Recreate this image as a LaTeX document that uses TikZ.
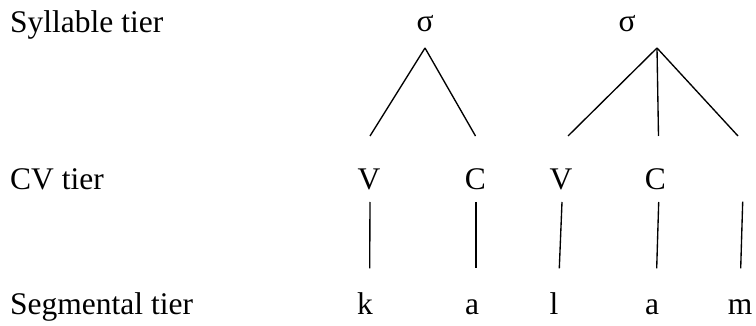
\documentclass[tikz,border=0pt]{standalone}
\usepackage{fontspec}
\setmainfont{Liberation Serif}
\usetikzlibrary{positioning,calc}

\begin{document}
\begin{tikzpicture}[x=1pt,y=-1pt,font=\fontsize{31.5}{36}\selectfont,
  tier/.style={anchor=base west,inner sep=0pt},
  unit/.style={anchor=base,inner sep=0pt},
  assoc/.style={line width=1.35pt}]
  \useasboundingbox (0,0) rectangle (756,326);

  % tier names
  \node[tier] (syltier) at (10,33) {Syllable tier};
  \node[tier] (cvtier) at (10,190) {CV tier};
  \node[tier] (segtier) at (10,315) {Segmental tier};

  % syllables
  \node[unit] (sig1) at (425,32) {σ};
  \node[unit] (sig2) at (627,32) {σ};

  % CV slots
  \node[unit] (v1) at (369,190) {V};
  \node[unit] (c1) at (475.5,190) {C};
  \node[unit] (v2) at (561,190) {V};
  \node[unit] (c2) at (655.5,190) {C};

  % segments
  \node[unit] (sk) at (365,315) {k};
  \node[unit] (sa1) at (472,315) {a};
  \node[unit] (sl) at (554,315) {l};
  \node[unit] (sa2) at (652,315) {a};
  \node[unit] (sm) at (740,315) {m};

  \coordinate (cfree) at (738,136);
  \coordinate (mfree) at (742.7,201.7);

  % syllable -- CV
  \draw[assoc] ($(sig1.base)+(0,16)$) -- ($(v1.base)+(1,-54)$);
  \draw[assoc] ($(sig1.base)+(0,16)$) -- ($(c1.base)+(0,-54)$);
  \draw[assoc] ($(sig2.base)+(30,16)$) -- ($(v2.base)+(7,-54)$);
  \draw[assoc] ($(sig2.base)+(30,16)$) -- ($(c2.base)+(3,-54)$);
  \draw[assoc] ($(sig2.base)+(30,16)$) -- (cfree);

  % CV -- segments
  \draw[assoc] ($(v1.base)+(1,12)$) -- ($(sk.base)+(4.7,-46.7)$);
  \draw[assoc] ($(c1.base)+(0.5,12)$) -- ($(sa1.base)+(4,-46.7)$);
  \draw[assoc] ($(v2.base)+(1,12)$) -- ($(sl.base)+(5.3,-46.7)$);
  \draw[assoc] ($(c2.base)+(3.2,12)$) -- ($(sa2.base)+(4.7,-46.7)$);
  \draw[assoc] (mfree) -- ($(sm.base)+(0.7,-46.7)$);
\end{tikzpicture}
\end{document}
